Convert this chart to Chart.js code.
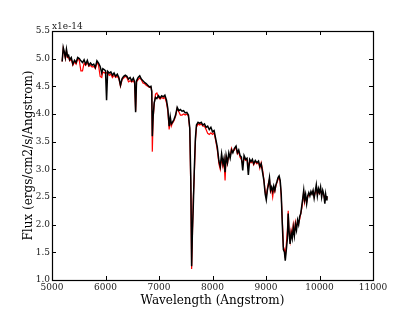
<!DOCTYPE html>
<html>
<head>
<meta charset="utf-8">
<script src="https://cdn.jsdelivr.net/npm/chart.js@4"></script>
<style>
  html, body { margin: 0; padding: 0; background: #fff; }
  #wrap { width: 415px; height: 312px; }
</style>
</head>
<body>
<div id="wrap"><canvas id="spec" width="415" height="312"></canvas></div>
<script>
// wavelength grid (Angstrom) and flux in units of 1e-14 ergs/cm2/s/Angstrom
const wavelength = [
  5190, 5210, 5230, 5250, 5270, 5290, 5310, 5330, 5360, 5390, 5420, 5450, 5480, 5510, 5540, 5570,
  5600, 5630, 5660, 5690, 5720, 5750, 5780, 5810, 5840, 5870, 5900, 5930, 5950, 5980, 6000, 6020,
  6040, 6070, 6100, 6130, 6160, 6190, 6220, 6250, 6280, 6310, 6340, 6370, 6400, 6430, 6460, 6490,
  6520, 6545, 6563, 6580, 6610, 6640, 6670, 6700, 6730, 6760, 6790, 6820, 6850, 6865, 6875, 6890,
  6910, 6935, 6960, 6990, 7020, 7050, 7080, 7110, 7140, 7165, 7190, 7210, 7230, 7250, 7280, 7310,
  7340, 7370, 7400, 7430, 7460, 7490, 7520, 7550, 7575, 7595, 7610, 7625, 7640, 7660, 7680, 7700,
  7730, 7760, 7790, 7820, 7850, 7880, 7910, 7940, 7970, 8000, 8030, 8060, 8090, 8120, 8145, 8170,
  8195, 8215, 8235, 8255, 8280, 8305, 8330, 8355, 8380, 8410, 8440, 8465, 8490, 8515, 8540, 8565,
  8590, 8620, 8645, 8670, 8695, 8720, 8745, 8770, 8800, 8830, 8860, 8885, 8910, 8935, 8960, 8985,
  9005, 9025, 9045, 9065, 9085, 9105, 9125, 9145, 9165, 9185, 9205, 9225, 9245, 9265, 9285, 9305,
  9325, 9345, 9360, 9380, 9400, 9415, 9430, 9450, 9470, 9490, 9510, 9530, 9550, 9570, 9590, 9610,
  9630, 9650, 9670, 9690, 9705, 9720, 9740, 9760, 9780, 9800, 9820, 9840, 9860, 9880, 9900, 9920,
  9940, 9960, 9980, 10000, 10020, 10040, 10060, 10080, 10100, 10115, 10130, 10140
];

const fluxBlack = [
  4.95, 5.20, 5.12, 5.02, 5.17, 5.04, 5.06, 4.98, 5.02, 4.90, 4.97, 4.93, 5.02, 5.00, 4.96, 4.93,
  4.98, 4.90, 4.97, 4.88, 4.92, 4.88, 4.90, 4.84, 4.96, 4.92, 4.86, 4.74, 4.82, 4.80, 4.78, 4.25,
  4.77, 4.74, 4.76, 4.70, 4.74, 4.68, 4.72, 4.66, 4.52, 4.64, 4.68, 4.70, 4.68, 4.63, 4.66, 4.60,
  4.65, 4.58, 4.03, 4.60, 4.66, 4.69, 4.63, 4.60, 4.57, 4.55, 4.52, 4.49, 4.50, 4.40, 3.60, 3.95,
  4.20, 4.30, 4.28, 4.33, 4.29, 4.33, 4.31, 4.34, 4.25, 4.10, 3.78, 3.95, 3.82, 3.85, 3.90, 3.98,
  4.12, 4.06, 4.08, 4.05, 4.06, 4.02, 4.03, 3.98, 3.75, 2.80, 1.25, 1.90, 2.30, 3.00, 3.55, 3.80,
  3.85, 3.83, 3.85, 3.80, 3.82, 3.76, 3.78, 3.72, 3.76, 3.68, 3.70, 3.55, 3.40, 3.15, 3.05, 3.28,
  3.10, 3.20, 2.95, 3.25, 3.12, 3.30, 3.20, 3.35, 3.30, 3.38, 3.42, 3.30, 3.35, 3.25, 3.22, 2.98,
  3.25, 3.18, 3.20, 2.90, 3.18, 3.14, 3.18, 3.10, 3.16, 3.12, 3.15, 3.05, 3.10, 2.95, 2.80, 2.55,
  2.45, 2.62, 2.72, 2.85, 2.62, 2.68, 2.60, 2.70, 2.62, 2.72, 2.78, 2.85, 2.88, 2.80, 2.55, 2.00,
  1.55, 1.50, 1.35, 1.55, 1.75, 2.20, 1.90, 1.65, 1.85, 1.75, 1.95, 1.80, 2.00, 1.90, 2.08, 2.00,
  2.15, 2.20, 2.35, 2.50, 2.62, 2.45, 2.55, 2.38, 2.52, 2.58, 2.52, 2.60, 2.55, 2.62, 2.48, 2.60,
  2.72, 2.52, 2.65, 2.58, 2.68, 2.50, 2.62, 2.55, 2.38, 2.55, 2.45, 2.52
];

const fluxRed = [
  4.95, 5.18, 5.10, 5.00, 5.14, 5.02, 5.03, 4.96, 4.99, 4.88, 4.94, 4.90, 4.99, 4.97, 4.78, 4.78,
  4.92, 4.88, 4.93, 4.86, 4.88, 4.85, 4.86, 4.82, 4.93, 4.88, 4.68, 4.66, 4.76, 4.74, 4.76, 4.74,
  4.75, 4.70, 4.72, 4.66, 4.70, 4.66, 4.68, 4.64, 4.50, 4.62, 4.65, 4.68, 4.66, 4.58, 4.60, 4.58,
  4.60, 4.55, 4.05, 4.58, 4.62, 4.65, 4.62, 4.56, 4.55, 4.52, 4.50, 4.48, 4.48, 4.42, 3.32, 3.90,
  4.18, 4.36, 4.38, 4.30, 4.27, 4.30, 4.28, 4.30, 4.20, 4.05, 3.72, 3.90, 3.78, 3.83, 3.88, 3.96,
  4.10, 4.04, 3.98, 3.98, 4.00, 3.98, 4.00, 3.96, 3.72, 2.60, 1.20, 1.80, 2.45, 2.90, 3.50, 3.76,
  3.82, 3.80, 3.82, 3.78, 3.78, 3.72, 3.65, 3.63, 3.66, 3.63, 3.66, 3.52, 3.35, 3.10, 3.00, 3.20,
  3.05, 3.15, 2.80, 3.20, 3.10, 3.25, 3.22, 3.38, 3.32, 3.35, 3.40, 3.28, 3.32, 3.22, 3.18, 3.10,
  3.20, 3.16, 3.18, 3.05, 3.15, 3.12, 3.15, 3.08, 3.14, 3.10, 3.13, 3.02, 3.12, 3.00, 2.82, 2.60,
  2.50, 2.65, 2.75, 2.82, 2.60, 2.65, 2.50, 2.65, 2.60, 2.70, 2.76, 2.82, 2.85, 2.78, 2.50, 2.10,
  1.60, 1.55, 1.40, 1.65, 1.90, 2.25, 1.85, 1.70, 1.90, 1.80, 2.00, 1.85, 2.05, 1.95, 2.05, 2.02,
  2.10, 2.20, 2.30, 2.45, 2.60, 2.40, 2.50, 2.40, 2.50, 2.55, 2.55, 2.58, 2.55, 2.60, 2.50, 2.58,
  2.62, 2.55, 2.60, 2.56, 2.62, 2.55, 2.58, 2.52, 2.45, 2.52, 2.48, 2.50
];

const xTicks = [5000, 6000, 7000, 8000, 9000, 10000, 11000];
const yTicks = [1.0, 1.5, 2.0, 2.5, 3.0, 3.5, 4.0, 4.5, 5.0, 5.5];

const serif = "'DejaVu Serif', 'Liberation Serif', serif";

function toPoints(xs, ys) {
  return xs.map((x, i) => ({ x: x, y: ys[i] }));
}

// matplotlib-style frame, inward ticks on all four sides and the offset label
const framePlugin = {
  id: 'frame',
  afterDraw(chart) {
    const ctx = chart.ctx;
    const a = chart.chartArea;
    const xs = chart.scales.x, ys = chart.scales.y;
    const len = 4;
    ctx.save();
    ctx.strokeStyle = '#000';
    ctx.lineWidth = 1;
    ctx.beginPath();
    xTicks.forEach(v => {
      const px = Math.round(xs.getPixelForValue(v)) + 0.5;
      ctx.moveTo(px, a.bottom); ctx.lineTo(px, a.bottom - len);
      ctx.moveTo(px, a.top); ctx.lineTo(px, a.top + len);
    });
    yTicks.forEach(v => {
      const py = Math.round(ys.getPixelForValue(v)) + 0.5;
      ctx.moveTo(a.left, py); ctx.lineTo(a.left + len, py);
      ctx.moveTo(a.right, py); ctx.lineTo(a.right - len, py);
    });
    ctx.stroke();
    ctx.lineWidth = 1.2;
    ctx.strokeRect(Math.round(a.left) + 0.5, Math.round(a.top) + 0.5,
      Math.round(a.right - a.left), Math.round(a.bottom - a.top));
    ctx.fillStyle = '#222';
    ctx.font = '9px ' + serif;
    ctx.textAlign = 'left';
    ctx.textBaseline = 'alphabetic';
    ctx.fillText('x1e-14', a.left, a.top - 2);
    ctx.restore();
  }
};

new Chart(document.getElementById('spec'), {
  type: 'line',
  data: {
    datasets: [
      {
        label: 'model',
        data: toPoints(wavelength, fluxBlack),
        borderColor: '#000',
        borderWidth: 1.5,
        pointRadius: 0,
        tension: 0,
        order: 0
      },
      {
        label: 'observed',
        data: toPoints(wavelength, fluxRed),
        borderColor: '#ff0000',
        borderWidth: 1.2,
        pointRadius: 0,
        tension: 0,
        order: 1
      }
    ]
  },
  options: {
    responsive: false,
    animation: false,
    events: [],
    layout: { padding: { top: 31, right: 42, left: 22, bottom: 4 } },
    plugins: { legend: { display: false }, tooltip: { enabled: false } },
    scales: {
      x: {
        type: 'linear',
        min: 5000,
        max: 11000,
        afterBuildTicks: s => { s.ticks = xTicks.map(v => ({ value: v })); },
        afterFit: s => { s.height = 28; },
        grid: { display: false, drawTicks: false },
        border: { display: false },
        ticks: {
          padding: 2,
          color: '#222',
          font: { family: serif, size: 9 },
          maxRotation: 0,
          callback: v => String(v)
        },
        title: {
          display: true,
          text: 'Wavelength (Angstrom)',
          color: '#000',
          font: { family: serif, size: 12 },
          padding: { top: 0, bottom: 0 }
        }
      },
      y: {
        min: 1.0,
        max: 5.5,
        afterBuildTicks: s => { s.ticks = yTicks.map(v => ({ value: v })); },
        afterFit: s => { s.width = 30; },
        grid: { display: false, drawTicks: false },
        border: { display: false },
        ticks: {
          padding: 2,
          color: '#222',
          font: { family: serif, size: 9 },
          callback: v => Number(v).toFixed(1)
        },
        title: {
          display: true,
          text: 'Flux (ergs/cm2/s/Angstrom)',
          color: '#000',
          font: { family: serif, size: 12 },
          padding: { top: 0, bottom: 0 }
        }
      }
    }
  },
  plugins: [framePlugin]
});
</script>
</body>
</html>
